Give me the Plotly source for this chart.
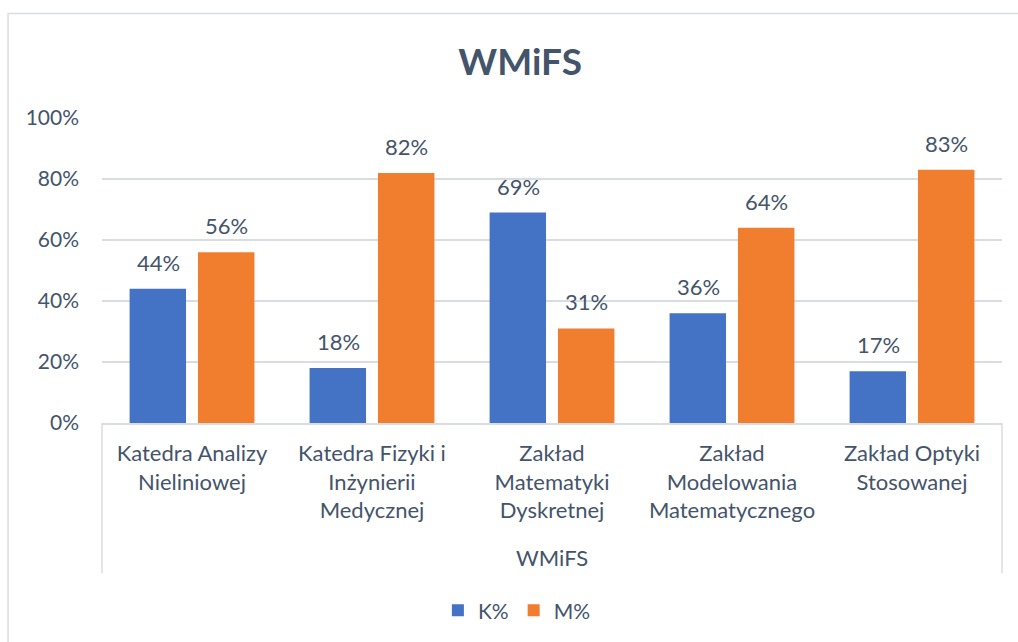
import plotly.graph_objects as go

group = "WMiFS"
categories = [
    "Katedra Analizy<br>Nieliniowej",
    "Katedra Fizyki i<br>Inżynierii<br>Medycznej",
    "Zakład<br>Matematyki<br>Dyskretnej",
    "Zakład<br>Modelowania<br>Matematycznego",
    "Zakład Optyki<br>Stosowanej",
]
k_pct = [0.44, 0.18, 0.69, 0.36, 0.17]
m_pct = [0.56, 0.82, 0.31, 0.64, 0.83]
series_names = ["K%", "M%"]
y_ticks = [0, 0.2, 0.4, 0.6, 0.8, 1.0]

FONT = "Lato, Calibri, sans-serif"
TXT = "#44546A"
GRID = "#D9DDE3"

fig = go.Figure()
series = [(series_names[0], k_pct, "#4472C4", -34), (series_names[1], m_pct, "#F07E2E", 34)]
for name, vals, col, shift in series:
    fig.add_trace(go.Bar(
        x=categories, y=vals, name=name,
        marker=dict(color=col, line=dict(width=0)),
        hoverinfo="x+y+name",
    ))
    for c, v in zip(categories, vals):
        fig.add_annotation(x=c, y=v, text=f"{v:.0%}", showarrow=False,
                           xshift=shift, yshift=11, yanchor="bottom",
                           font=dict(family=FONT, size=22, color=TXT))

# group label below categories
fig.add_annotation(x=0.5, xref="paper", y=-0.44, yref="paper", text=group,
                   showarrow=False, yanchor="middle", xanchor="center",
                   font=dict(family=FONT, size=22, color=TXT))
# category box dividers
for xp in (0, 1):
    fig.add_shape(type="line", xref="paper", yref="paper", x0=xp, x1=xp, y0=0, y1=-0.493,
                  line=dict(color=GRID, width=1.5))

fig.update_layout(
    width=1018, height=642,
    margin=dict(l=102, r=16, t=118, b=218),
    paper_bgcolor="white", plot_bgcolor="white",
    barmode="group", bargap=0.24, bargroupgap=0.175,
    font=dict(family=FONT, size=22, color=TXT),
    title=dict(text="<b>WMiFS</b>", x=0.511, xref="container", xanchor="center",
               y=0.903, yref="container", yanchor="middle",
               font=dict(family=FONT, size=37, color=TXT)),
    showlegend=True,
    legend=dict(orientation="h", x=0.461, xanchor="center", y=-0.61, yanchor="middle",
                font=dict(family=FONT, size=21, color=TXT), itemwidth=30,
                traceorder="normal"),
)
fig.update_yaxes(range=[0, 1], tickvals=y_ticks, tickformat=".0%", showgrid=True,
                 gridcolor=GRID, gridwidth=1.5, zeroline=False, showline=False,
                 ticks="", tickfont=dict(family=FONT, size=21, color=TXT), ticklabelstandoff=22)
fig.update_xaxes(type="category", showline=True, linecolor=GRID, linewidth=1.5,
                 ticks="", tickfont=dict(family=FONT, size=22, color=TXT), ticklabelstandoff=10)

# chart border (extends past the right and bottom edges as in the reference)
fig.add_shape(type="rect", xref="paper", yref="paper", x0=-0.1044, x1=1.05, y0=-0.8, y1=1.343,
              line=dict(color=GRID, width=1.5), fillcolor="rgba(0,0,0,0)", layer="below")

fig.write_html("out.html", config={"displayModeBar": False},
               post_script="document.body.style.margin='0';")
